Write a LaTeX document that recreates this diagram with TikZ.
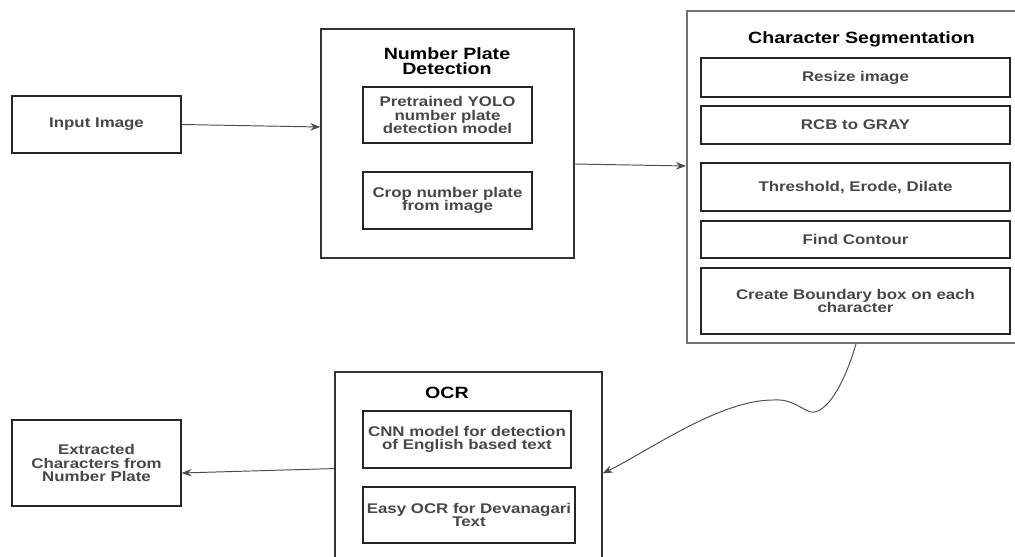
\documentclass[tikz,border=0pt]{standalone}
\usepackage{fontspec}
\setmainfont{Liberation Sans}[FakeStretch=1.2]
\usetikzlibrary{arrows.meta}
\tikzset{
  box/.style={draw=black!85, line width=0.65pt, align=center, inner sep=2pt,
    text=black!72, font=\bfseries\fontsize{8}{7.6}\selectfont},
  group/.style={draw=black!80, line width=0.8pt},
  ttl/.style={font=\bfseries\fontsize{9.3}{8.4}\selectfont, align=center, inner sep=0pt},
  arr/.style={-{Stealth[length=2mm,width=1.5mm]}, line width=0.55pt, black!70},
}
\begin{document}
\begin{tikzpicture}[x=0.02cm, y=-0.02cm]
    \clip (0,0) rectangle (1015,557);
    % outer groups
    \node[group, minimum width=5.06cm, minimum height=4.58cm] (npd) at (447.5,143.5) {};
    \node[group, draw=black!55, line width=1.1pt, minimum width=6.76cm, minimum height=6.64cm] (cs) at (856,177) {};
    \node[group, minimum width=5.34cm, minimum height=4.06cm] (ocr) at (468.5,473.5) {};
    \node[ttl] (npdt) at (447,61) {Number Plate\\Detection};
    \node[ttl] (cst) at (861.5,39) {Character Segmentation};
    \node[ttl] (ocrt) at (447,393) {OCR};
    % single boxes
    \node[box, minimum width=3.38cm, minimum height=1.14cm] (inp) at (96.5,124.5) {Input Image};
    \node[box, minimum width=3.38cm, minimum height=1.72cm] (extr) at (96.5,463) {Extracted\\Characters from\\Number Plate};
    % number plate detection
    \node[box, minimum width=3.38cm, minimum height=1.12cm] (yolo) at (447.5,115) {Pretrained YOLO\\number plate\\detection model};
    \node[box, minimum width=3.38cm, minimum height=1.14cm] (crop) at (447.5,200.5) {Crop number plate\\from image};
    % character segmentation
    \node[box, minimum width=6.18cm, minimum height=0.78cm] (resz) at (855.5,77.5) {Resize image};
    \node[box, minimum width=6.18cm, minimum height=0.76cm] (gray) at (855.5,125) {RCB to GRAY};
    \node[box, minimum width=6.18cm, minimum height=0.96cm] (thr) at (855.5,187) {Threshold, Erode, Dilate};
    \node[box, minimum width=6.18cm, minimum height=0.74cm] (cont) at (855.5,239.5) {Find Contour};
    \node[box, minimum width=6.18cm, minimum height=1.32cm] (bbox) at (855.5,301) {Create Boundary box on each\\character};
    % ocr
    \node[box, minimum width=4.16cm, minimum height=1.14cm] (cnn) at (467,439.5) {CNN model for detection\\of English based text};
    \node[box, minimum width=4.24cm, minimum height=1.12cm] (easy) at (469,515) {Easy OCR for Devanagari\\Text};
    % connectors
    \draw[arr] (inp.east) -- ([yshift=-0.05cm]inp.east -| npd.west);
    \draw[arr] ([yshift=-4.1mm]npd.east) -- ([yshift=-4.5mm]npd.east -| cs.west);
    \draw[arr] (cs.south) .. controls (842,392) and (822,418) .. (808,411)
      .. controls (794,404) and (788,399) .. (773,400)
      .. controls (720,400) and (650,450) .. (ocr.east);
    \draw[arr] (cnn.south -| ocr.west) -- ([yshift=-2mm]extr.east);
\end{tikzpicture}
\end{document}
